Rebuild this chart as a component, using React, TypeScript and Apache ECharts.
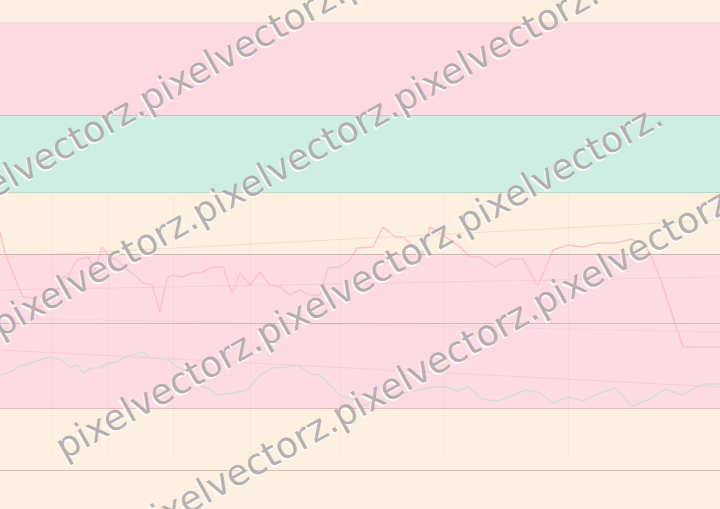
import React, { useEffect, useRef } from "react";
import * as echarts from "echarts";

// Horizontal positions and depth readings (vertical axis runs downward, 0 at top, 509 at bottom)
const pinkX = [0, 5, 17, 23, 32, 35, 42, 47, 53, 58, 63, 68, 77, 88, 95, 102, 110, 117, 127, 137, 143, 152, 160, 167, 173, 182, 193, 200, 213, 223, 232, 240, 250, 260, 270, 280, 290, 300, 310, 320, 328, 340, 350, 357, 373, 383, 395, 403, 410, 420, 430, 440, 450, 460, 470, 480, 495, 510, 523, 538, 553, 568, 583, 598, 615, 632, 648, 660, 673, 683, 720];
const pinkY = [232, 253, 283, 297, 298, 307, 307, 290, 289, 289, 277, 276, 260, 257, 270, 247, 257, 260, 270, 277, 283, 285, 312, 278, 275, 277, 273, 273, 267, 267, 293, 273, 285, 272, 285, 287, 295, 290, 295, 295, 268, 267, 260, 248, 247, 227, 237, 237, 243, 262, 227, 233, 240, 247, 257, 257, 267, 259, 259, 286, 250, 245, 247, 243, 243, 239, 250, 277, 317, 347, 347];

const grayX = [0, 13, 18, 33, 50, 62, 70, 77, 83, 92, 100, 108, 117, 123, 132, 143, 150, 167, 177, 187, 200, 210, 217, 233, 247, 260, 273, 287, 298, 310, 320, 330, 340, 350, 360, 370, 387, 403, 420, 433, 447, 457, 468, 482, 497, 510, 525, 538, 553, 568, 583, 600, 615, 632, 650, 665, 682, 702, 720];
const grayY = [375, 371, 367, 362, 357, 360, 367, 365, 373, 368, 368, 363, 362, 358, 355, 352, 358, 359, 367, 371, 385, 389, 395, 393, 390, 375, 368, 367, 365, 374, 375, 385, 395, 398, 407, 403, 398, 393, 390, 387, 387, 391, 387, 399, 401, 397, 390, 392, 403, 397, 401, 393, 388, 406, 399, 389, 395, 384, 384];

// Trend lines
const trendStartX = [0, 0, 0, 0];
const trendStartY = [257, 290, 318, 350];
const trendEndX = [720, 720, 720, 720];
const trendEndY = [220, 277, 332, 387];

// Bands: [from, to]
const bandFrom = [22, 115, 254];
const bandTo = [115, 192, 408];

// Horizontal rules
const ruleValues = [115, 192, 254, 323, 408, 470];

// Vertical guides
const guideX = [52, 108, 173, 250, 340, 443, 568];

const bandColors = ["#fdd9e2", "#ceeee3", "#fddbe3"];
const ruleColors = ["#dcbcc5", "#b8d9ca", "#c9b6b6", "#d8b8bf", "#eab8c2", "#d6c2b4"];
const trendColors = ["#f4dccb", "#f8ccd6", "#f6d3da", "#f7cbd4"];

const WM_TEXT = "pixelvectorz.";
const wmRows = [
  { x: -50, y: 230 },
  { x: 3, y: 343 },
  { x: 67, y: 465 },
  { x: 143, y: 546 },
];

export default function App() {
  const ref = useRef<HTMLDivElement>(null);
  useEffect(() => {
    if (!ref.current) return;
    const chart = echarts.init(ref.current, null, { renderer: "svg" });
    const zip = (xs: number[], ys: number[]) => xs.map((x, i) => [x, ys[i]]);
    const rot = Math.atan(0.56);
    const wmFont = '36px "DejaVu Sans"';
    const wmText = WM_TEXT + WM_TEXT + WM_TEXT;
    const graphics: any[] = [];
    wmRows.forEach((r) => {
      graphics.push({
        type: "text",
        x: r.x - 1,
        y: r.y + 2,
        rotation: rot,
        silent: true,
        z: 100,
        style: { text: wmText, font: wmFont, fill: "rgba(255,255,255,0.85)", textAlign: "left", textVerticalAlign: "bottom" },
      });
      graphics.push({
        type: "text",
        x: r.x,
        y: r.y,
        rotation: rot,
        silent: true,
        z: 101,
        style: { text: wmText, font: wmFont, fill: "rgba(160,153,153,0.75)", textAlign: "left", textVerticalAlign: "bottom" },
      });
    });

    const series: any[] = [
      {
        type: "line",
        data: [],
        z: 1,
        silent: true,
        markArea: {
          silent: true,
          data: bandFrom.map((f, i) => [
            { yAxis: f, itemStyle: { color: bandColors[i] } },
            { yAxis: bandTo[i] },
          ]),
        },
        markLine: {
          silent: true,
          symbol: ["none", "none"],
          label: { show: false },
          data: ruleValues.map((v, i) => ({ yAxis: v, lineStyle: { color: ruleColors[i], width: 1, type: "solid" } })),
        },
      },
      {
        type: "line",
        data: [],
        z: 2,
        silent: true,
        markLine: {
          silent: true,
          symbol: ["none", "none"],
          label: { show: false },
          data: guideX.map((x) => [
            { coord: [x, 195], lineStyle: { color: "rgba(215,170,150,0.12)", width: 1, type: "solid" } },
            { coord: [x, 455] },
          ]),
        },
      },
      ...trendStartX.map((x0, i) => ({
        type: "line",
        z: 3,
        silent: true,
        symbol: "none",
        lineStyle: { color: trendColors[i], width: 1 },
        data: [
          [x0, trendStartY[i]],
          [trendEndX[i], trendEndY[i]],
        ],
      })),
      {
        type: "line",
        z: 4,
        silent: true,
        symbol: "none",
        lineStyle: { color: "#fbc3cf", width: 1.5 },
        data: zip(pinkX, pinkY),
      },
      {
        type: "line",
        z: 4,
        silent: true,
        symbol: "none",
        lineStyle: { color: "#d6ddd5", width: 1.5 },
        data: zip(grayX, grayY),
      },
    ];

    chart.setOption({
      animation: false,
      backgroundColor: "#fdf0e0",
      grid: { left: 0, right: 0, top: 0, bottom: 0 },
      xAxis: { type: "value", min: 0, max: 720, show: false },
      yAxis: { type: "value", min: 0, max: 509, inverse: true, show: false },
      series,
      graphic: graphics,
    });
    return () => chart.dispose();
  }, []);
  return <div ref={ref} style={{ position: "fixed", left: 0, top: 0, width: 720, height: 509 }} />;
}
